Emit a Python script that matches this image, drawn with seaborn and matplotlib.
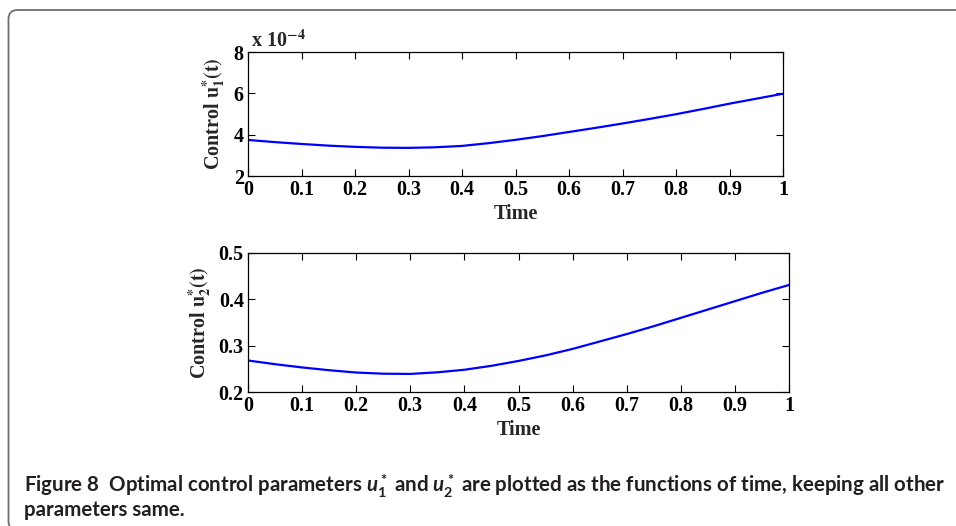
import matplotlib
matplotlib.use("Agg")
import matplotlib.pyplot as plt
import numpy as np
import pandas as pd
import seaborn as sns
from matplotlib.patches import FancyBboxPatch
from matplotlib import font_manager

# ---------------- data ----------------
time = [0.00, 0.05, 0.10, 0.15, 0.20, 0.25, 0.30, 0.35, 0.40, 0.45, 0.50,
        0.55, 0.60, 0.65, 0.70, 0.75, 0.80, 0.85, 0.90, 0.95, 1.00]
# u1 in units of 1e-4
u1 = [3.745, 3.64, 3.55, 3.47, 3.41, 3.37, 3.36, 3.39, 3.455, 3.59, 3.75,
      3.93, 4.13, 4.33, 4.54, 4.76, 4.99, 5.24, 5.50, 5.74, 5.98]
u2 = [0.268, 0.260, 0.253, 0.247, 0.242, 0.2395, 0.239, 0.2425, 0.248, 0.2565, 0.267,
      0.279, 0.293, 0.309, 0.325, 0.342, 0.360, 0.378, 0.396, 0.414, 0.431]

xticks = [0, 0.1, 0.2, 0.3, 0.4, 0.5, 0.6, 0.7, 0.8, 0.9, 1]
xticklabels = ["0", "0.1", "0.2", "0.3", "0.4", "0.5", "0.6", "0.7", "0.8", "0.9", "1"]
u1_ticks = [2, 4, 6, 8]
u2_ticks = [0.2, 0.3, 0.4, 0.5]
u2_ticklabels = ["0.2", "0.3", "0.4", "0.5"]

caption1 = r"Figure 8  Optimal control parameters $u_1^*$ and $u_2^*$ are plotted as the functions of time, keeping all other"
caption2 = "parameters same."

# ---------------- style ----------------
sns.set_theme(style="ticks")
names = {f.name for f in font_manager.fontManager.ttflist}
cap_font = "Liberation Sans Narrow" if "Liberation Sans Narrow" in names else "Lato"
plt.rcParams["font.family"] = ["Liberation Serif", "DejaVu Serif"]
plt.rcParams["mathtext.rm"] = f"{cap_font}:bold"
plt.rcParams["mathtext.bf"] = f"{cap_font}:bold"
plt.rcParams["mathtext.it"] = f"{cap_font}:italic:bold"
plt.rcParams["axes.linewidth"] = 0.8

W, H = 956, 526
fig = plt.figure(figsize=(W / 100, H / 100), dpi=100)
fig.patch.set_facecolor("white")

# outer rounded frame
frame = FancyBboxPatch((8.5, -4), 1000, 520, boxstyle="round,pad=0,rounding_size=9",
                       transform=None, fill=False, edgecolor="#6e6e6e", lw=1.3)
fig.patches.append(frame)

def px_axes(l, r, t, b):
    return fig.add_axes([l / W, (H - b) / H, (r - l) / W, (b - t) / H])

ax1 = px_axes(248, 783, 52, 176)
ax2 = px_axes(248, 789, 253, 392)

df = pd.DataFrame({"time": time, "u1": u1, "u2": u2})
sns.lineplot(data=df, x="time", y="u1", ax=ax1, color="#0000ff", lw=1.6)
sns.lineplot(data=df, x="time", y="u2", ax=ax2, color="#0000ff", lw=1.6)

tfont = dict(family="Liberation Serif", weight="bold", size=14.5)

for ax in (ax1, ax2):
    ax.set_xlim(0, 1)
    ax.set_xticks(xticks)
    ax.set_xticklabels(xticklabels, fontdict=tfont)
    ax.tick_params(direction="in", top=True, right=True, length=5, width=0.8,
                   colors="black", pad=3)
    for s in ax.spines.values():
        s.set_color("black")
        s.set_linewidth(0.9)
    ax.set_xlabel("Time", fontdict=tfont, labelpad=3)

ax1.set_ylim(2, 8)
ax1.set_yticks(u1_ticks)
ax1.set_yticklabels([str(v) for v in u1_ticks], fontdict=tfont)
ax1.set_ylabel(r"Control $\mathbf{u}_\mathbf{1}^\mathbf{*}\mathbf{(t)}$", fontdict=tfont,
               math_fontfamily="stix", labelpad=5)
ax1.text(0.005, 1.04, r"x 10$^{\mathbf{-4}}$", transform=ax1.transAxes, ha="left",
         va="baseline", math_fontfamily="stix", **tfont)

ax2.set_ylim(0.2, 0.5)
ax2.set_yticks(u2_ticks)
ax2.set_yticklabels(u2_ticklabels, fontdict=tfont)
ax2.set_ylabel(r"Control $\mathbf{u}_\mathbf{2}^\mathbf{*}\mathbf{(t)}$", fontdict=tfont,
               math_fontfamily="stix", labelpad=4)

# caption
cap_kw = dict(family=cap_font, weight="bold", color="#231f20", math_fontfamily="custom",
              ha="left", va="baseline", transform=None)
t1 = fig.text(24, H - 492, caption1, fontsize=13, **cap_kw)
t2 = fig.text(24, H - 516, caption2, fontsize=13, **cap_kw)
fig.canvas.draw()
r = fig.canvas.get_renderer()
w = t1.get_window_extent(r).width
fs = 13 * 919 / w
t1.set_fontsize(fs)
t2.set_fontsize(fs)

fig.savefig("out.png", dpi=100)
